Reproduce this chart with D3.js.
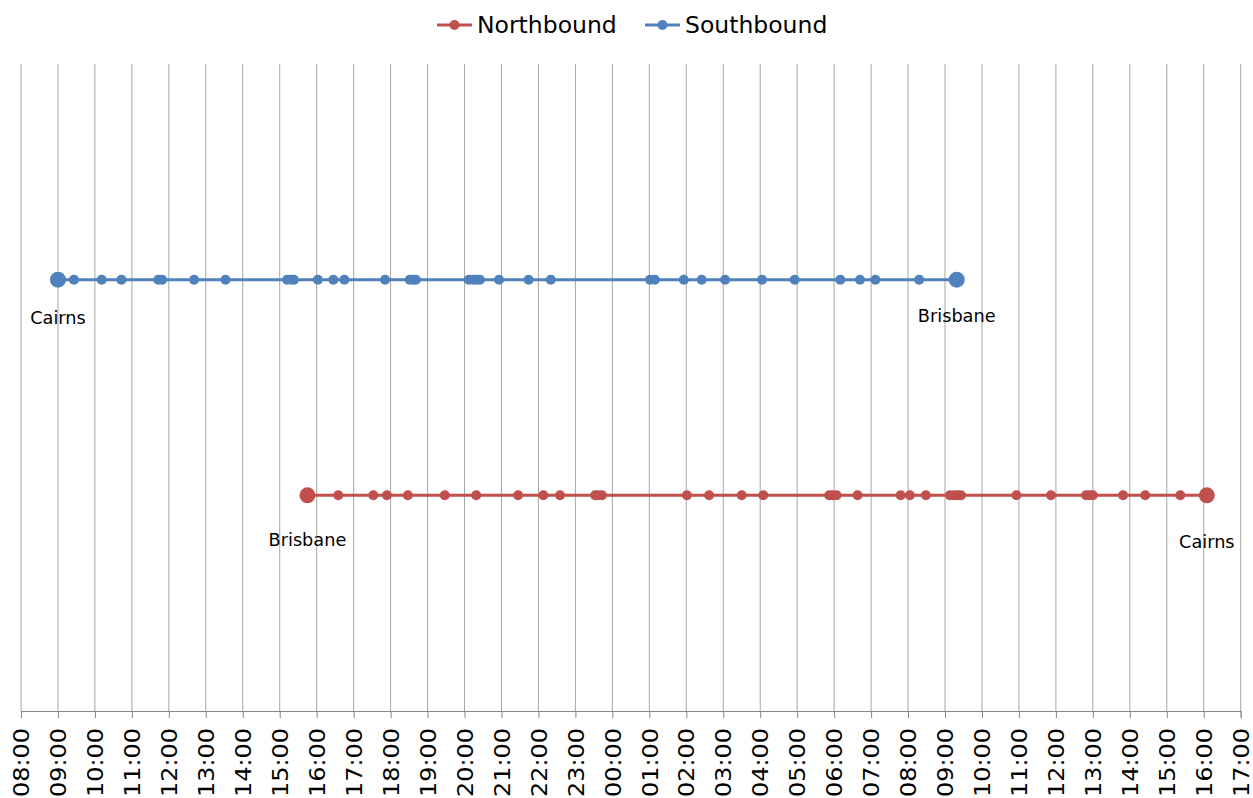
<!DOCTYPE html>
<html>
<head>
<meta charset="utf-8">
<script src="https://cdn.jsdelivr.net/npm/d3@7"></script>
<style>
  html, body { margin: 0; padding: 0; background: #fff; }
  svg { display: block; font-family: "DejaVu Sans", Verdana, sans-serif; }
</style>
</head>
<body>
<svg id="chart" width="1253" height="798"></svg>
<script>
// ---- Data ----
const seriesNames = ["Northbound", "Southbound"];
const seriesColors = ["#C0504D", "#4F81BD"];
const seriesLevel = [1, 2];

// Stop times (clock, rolling over midnight)
const southboundTimes = ["09:00","09:26","10:11","10:43","11:43","11:49","12:41","13:32",
  "15:12","15:19","15:23","16:02","16:27","16:45","17:51","18:31","18:37","18:41",
  "20:07","20:14","20:20","20:25","20:56","21:44","22:20","01:01","01:09","01:56",
  "02:25","03:03","04:03","04:56","06:10","06:42","07:07","08:18","09:19"];
const northboundTimes = ["15:45","16:35","17:32","17:54","18:28","19:28","20:19","21:27",
  "22:08","22:35","23:32","23:37","23:43","02:01","02:37","03:30","04:05","05:52",
  "05:58","06:04","06:38","07:48","08:03","08:29","09:08","09:15","09:21","09:26",
  "10:56","11:52","12:49","12:55","13:00","13:49","14:25","15:22","16:05"];

const southboundEnds = ["Cairns", "Brisbane"];
const northboundEnds = ["Brisbane", "Cairns"];

// Axis ticks: hourly from 08:00 day 1 to 17:00 day 2 (hours since midnight of day 1)
const tickHours = d3.range(8, 42);

// ---- Helpers ----
function parseSeq(times) {
  let prev = -1, offset = 0;
  return times.map(t => {
    const [h, m] = t.split(":").map(Number);
    let v = h + m / 60 + offset;
    if (v < prev) { offset += 24; v += 24; }
    prev = v;
    return v;
  });
}
const pad = n => (n < 10 ? "0" : "") + n;

const south = parseSeq(southboundTimes);
const north = parseSeq(northboundTimes);
const seriesData = [north, south];
const seriesEnds = [northboundEnds, southboundEnds];

// ---- Layout ----
const svg = d3.select("#chart");
const plotLeft = 21, plotRight = 1240.7, plotTop = 64, plotBottom = 711;

const x = d3.scaleLinear().domain([8, 41]).range([plotLeft, plotRight]);
const y = d3.scaleLinear().domain([0, 3]).range([plotBottom, plotTop]);

// gridlines
svg.append("g").selectAll("line").data(tickHours).join("line")
  .attr("x1", d => x(d)).attr("x2", d => x(d))
  .attr("y1", plotTop).attr("y2", plotBottom)
  .attr("stroke", "#a6a6a6").attr("stroke-width", 1);

// x axis
const axis = d3.axisBottom(x).tickValues(tickHours).tickSize(7).tickFormat(d => pad(d % 24) + ":00");
const gx = svg.append("g").attr("transform", `translate(0,${plotBottom})`).call(axis);
gx.select(".domain").attr("stroke", "#868686").attr("stroke-width", 1);
gx.selectAll(".tick line").attr("stroke", "#868686");
gx.selectAll(".tick text")
  .attr("font-family", "DejaVu Sans, Verdana, sans-serif")
  .attr("font-size", 21)
  .attr("fill", "#000")
  .attr("text-anchor", "end")
  .attr("x", 0).attr("y", 0).attr("dy", "0.365em")
  .attr("transform", "translate(0,17) rotate(-90) scale(1.14,1)");

// series
seriesData.forEach((vals, i) => {
  const g = svg.append("g");
  const yy = y(seriesLevel[i]);
  g.append("path")
    .datum(vals)
    .attr("d", d3.line().x(d => x(d)).y(() => yy))
    .attr("fill", "none").attr("stroke", seriesColors[i]).attr("stroke-width", 3);
  g.selectAll("circle").data(vals).join("circle")
    .attr("cx", d => x(d)).attr("cy", yy)
    .attr("r", (d, j) => (j === 0 || j === vals.length - 1) ? 8 : 5)
    .attr("fill", seriesColors[i]);
  // end labels
  const ends = [vals[0], vals[vals.length - 1]];
  const dys = i === 0 ? [51, 53] : [44, 42];
  g.selectAll("text").data(ends).join("text")
    .attr("x", d => x(d)).attr("y", (d, j) => yy + dys[j])
    .attr("text-anchor", "middle")
    .attr("font-size", 17.7).attr("fill", "#000")
    .text((d, j) => seriesEnds[i][j]);
});

// legend
const legendItems = [
  { name: seriesNames[0], color: seriesColors[0], lx: 437 },
  { name: seriesNames[1], color: seriesColors[1], lx: 645 }
];
const lg = svg.append("g");
legendItems.forEach(it => {
  lg.append("line").attr("x1", it.lx).attr("x2", it.lx + 35)
    .attr("y1", 25).attr("y2", 25).attr("stroke", it.color).attr("stroke-width", 3);
  lg.append("circle").attr("cx", it.lx + 17.5).attr("cy", 25).attr("r", 5).attr("fill", it.color);
  lg.append("text").attr("x", it.lx + 40).attr("y", 33)
    .attr("font-size", 23.5).attr("fill", "#000").text(it.name);
});
</script>
</body>
</html>
